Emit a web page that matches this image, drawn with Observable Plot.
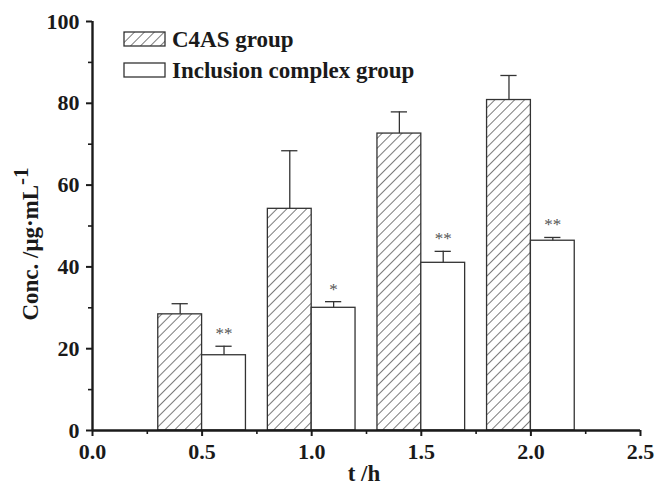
<!DOCTYPE html>
<html><head><meta charset="utf-8">
<script src="https://cdn.jsdelivr.net/npm/d3@7"></script>
<script src="https://cdn.jsdelivr.net/npm/@observablehq/plot@0.6"></script>
<style>
body{margin:0;background:#fff;}
#wrap{position:relative;width:655px;height:488px;}
</style></head><body><div id="wrap"></div>
<script>
// ---- data ----
const times = [0.5, 1.0, 1.5, 2.0];
const c4as = [28.4, 54.2, 72.6, 80.8];
const c4asErr = [2.6, 14.2, 5.3, 6.0];
const incl = [18.4, 30.0, 41.0, 46.4];
const inclErr = [2.2, 1.5, 2.8, 0.8];
const stars = ["**", "*", "**", "**"];
const seriesNames = ["C4AS group", "Inclusion complex group"];
const xTicks = [0, 0.5, 1.0, 1.5, 2.0, 2.5];
const xMinor = [0.25, 0.75, 1.25, 1.75, 2.25];
const yTicks = [0, 20, 40, 60, 80, 100];
const yMinor = [10, 30, 50, 70, 90];
const xLabel = "t /h";
const yLabel = "Conc. /\u03BCg\u00B7mL";
const yLabelSup = "-1";

// ---- layout ----
const barW = 0.2, capHalf = 0.037;
const ink = "#1a1a1a", barInk = "#333";
const FONT = "'Liberation Serif','Times New Roman',serif";

const rowsA = times.map((t, i) => ({x1: t - barW, x2: t, v: c4as[i], err: c4asErr[i]}));
const rowsB = times.map((t, i) => ({x1: t, x2: t + barW, v: incl[i], err: inclErr[i], star: stars[i]}));
const allRows = rowsA.concat(rowsB);
const midX = d => (d.x1 + d.x2) / 2;
const errTop = d => d.v + d.err;

const plot = Plot.plot({
  width: 655, height: 488,
  marginLeft: 92, marginRight: 15, marginTop: 21, marginBottom: 58,
  style: {fontFamily: FONT, fontSize: "22px", fontWeight: "bold", color: ink, background: "#fff"},
  x: {domain: [0, 2.5]},
  y: {domain: [0, 100]},
  marks: [
    Plot.rectY(rowsA, {x1: "x1", x2: "x2", y: "v", fill: "url(#hatch)", stroke: barInk, strokeWidth: 1.3}),
    Plot.rectY(rowsB, {x1: "x1", x2: "x2", y: "v", fill: "#fff", stroke: barInk, strokeWidth: 1.3}),
    Plot.ruleX(allRows, {x: midX, y1: "v", y2: errTop, stroke: "#333", strokeWidth: 1.3}),
    Plot.ruleY(allRows, {y: errTop, x1: d => midX(d) - capHalf, x2: d => midX(d) + capHalf, stroke: "#333", strokeWidth: 1.3}),
    Plot.text(rowsB, {x: midX, y: errTop, text: "star", dy: -7, fontSize: 17, fontWeight: "normal", fill: "#555", lineAnchor: "bottom"}),
    Plot.axisX({ticks: xTicks, tickFormat: d3.format(".1f"), tickSize: 6, tickPadding: 7, stroke: ink, strokeWidth: 2, label: null, fontSize: 22}),
    Plot.axisX({ticks: xMinor, tickSize: 4, stroke: ink, strokeWidth: 1.6, text: null, label: null}),
    Plot.axisY({ticks: yTicks, tickSize: 6, tickPadding: 7, stroke: ink, strokeWidth: 2, label: null, fontSize: 22}),
    Plot.axisY({ticks: yMinor, tickSize: 4, stroke: ink, strokeWidth: 1.6, text: null, label: null}),
    Plot.ruleY([0], {stroke: ink, strokeWidth: 2.4}),
    Plot.ruleX([0], {stroke: ink, strokeWidth: 2.4})
  ]
});

const svg = d3.select(plot);
const defs = svg.insert("defs", ":first-child");
defs.append("pattern")
  .attr("id", "hatch").attr("patternUnits", "userSpaceOnUse")
  .attr("width", 7).attr("height", 7).attr("patternTransform", "rotate(45)")
  .call(p => {
    p.append("rect").attr("width", 7).attr("height", 7).attr("fill", "#fff");
    p.append("line").attr("x1", 0).attr("y1", 0).attr("x2", 0).attr("y2", 7)
      .attr("stroke", "#222").attr("stroke-width", 1.2);
  });

// axis titles
svg.append("text")
  .attr("transform", "translate(38,244) rotate(-90)")
  .attr("text-anchor", "middle")
  .attr("font-family", FONT).attr("font-size", 23).attr("font-weight", "bold").attr("fill", ink)
  .call(t => {
    t.append("tspan").text(yLabel);
    t.append("tspan").attr("dy", -10).attr("font-size", 21).text(yLabelSup);
  });
svg.append("text")
  .attr("x", 364).attr("y", 481)
  .attr("text-anchor", "middle")
  .attr("font-family", FONT).attr("font-size", 23).attr("font-weight", "bold").attr("fill", ink)
  .text(xLabel);

// legend
const leg = svg.append("g").attr("transform", "translate(124,32)");
seriesNames.forEach((name, i) => {
  const g = leg.append("g").attr("transform", `translate(0,${i * 31})`);
  g.append("rect").attr("width", 41).attr("height", 14)
    .attr("fill", i === 0 ? "url(#hatch)" : "#fff").attr("stroke", barInk).attr("stroke-width", 1.3);
  g.append("text").attr("x", 48).attr("y", 15).attr("text-anchor", "start")
    .attr("font-family", FONT).attr("font-size", 23).attr("font-weight", "bold").attr("fill", ink)
    .text(name);
});

document.getElementById("wrap").appendChild(plot);
</script>
</body></html>
